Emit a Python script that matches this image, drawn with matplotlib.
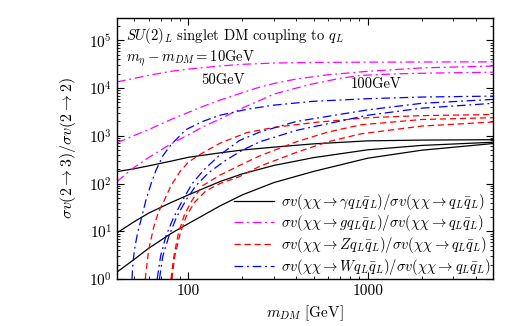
import numpy as np
import matplotlib.pyplot as plt
import matplotlib.ticker as ticker

plt.rcParams['font.family'] = 'serif'
plt.rcParams['font.serif'] = ['cmr10']
plt.rcParams['mathtext.fontset'] = 'cm'
plt.rcParams['axes.formatter.use_mathtext'] = True

#photon emission, mass splitting 10, 50, 100 GeV
m_gam = [40, 50, 60, 80, 100, 150, 200, 300, 500, 1000, 2000, 5000]
gam_10 = [178, 205, 235, 295, 355, 440, 505, 580, 680, 785, 815, 830]
gam_50 = [9.3, 16, 24, 40, 58, 110, 160, 240, 350, 510, 630, 735]
gam_100 = [1.4, 2.6, 4.4, 9, 14.5, 34, 58, 105, 180, 340, 500, 690]

#gluon emission
m_g10 = [40, 50, 60, 80, 100, 150, 200, 300, 500, 1000, 5000]
g_10 = [13500, 16000, 18500, 22500, 25000, 29000, 31500, 33500, 34500, 35000, 35500]
m_g50 = [40, 45, 50, 60, 70, 80, 100, 120, 150, 200, 250, 300, 400, 600, 1000, 2000, 5000]
g_50 = [720, 860, 1020, 1350, 1750, 2200, 3100, 4100, 5600, 8000, 10500, 12500, 15500,
        19000, 22500, 26500, 29000]
m_g100 = [40, 45, 50, 60, 70, 80, 100, 123, 150, 193, 250, 300, 480, 700, 915, 1500,
          2500, 5000]
g_100 = [110, 160, 220, 350, 500, 680, 1050, 1600, 2250, 3600, 5500, 7500, 12000, 16000,
         18500, 20000, 20800, 21500]

#Z emission
m_z10 = [57.5, 60, 64, 68, 73.5, 80, 90, 100, 115, 150, 212, 300, 500, 1000, 2000, 5000]
z_10 = [1, 4, 12, 25, 45, 90, 180, 280, 400, 700, 1170, 1500, 1900, 2400, 2650, 2800]
m_z50 = [80, 83, 88, 95, 105, 120, 150, 193, 250, 400, 600, 915, 2000, 5000]
z_50 = [1, 3, 9, 22, 45, 90, 150, 240, 380, 750, 1200, 1700, 2200, 2400]
m_z100 = [81, 84, 90, 97, 108, 125, 150, 193, 250, 400, 600, 915, 2000, 5000]
z_100 = [1, 3, 9, 20, 40, 70, 100, 140, 230, 450, 750, 1100, 1600, 1950]

#W emission
m_w10 = [48.5, 49, 50, 52, 55, 58, 62, 66, 72, 80, 97, 120, 150, 212, 300, 500, 1000,
         2000, 5000]
w_10 = [1, 2, 4, 9, 20, 45, 100, 190, 380, 650, 1350, 2000, 2700, 3600, 4400, 5300,
        6000, 6500, 6800]
m_w50 = [67, 70, 75, 83, 93, 105, 123, 150, 193, 250, 400, 1000, 2000, 5000]
w_50 = [1, 3, 8, 20, 45, 100, 200, 400, 800, 1200, 2000, 3500, 4800, 5800]
m_w100 = [69, 72, 78, 86, 97, 110, 130, 160, 200, 250, 400, 1000, 2000, 5000]
w_100 = [1, 3, 8, 20, 45, 90, 170, 300, 500, 750, 1300, 2700, 3800, 4800]

labels = [r'$\sigma v(\chi\chi\rightarrow\gamma q_L\bar{q}_L)/\sigma v(\chi\chi\rightarrow q_L\bar{q}_L)$',
          r'$\sigma v(\chi\chi\rightarrow g q_L\bar{q}_L)/\sigma v(\chi\chi\rightarrow q_L\bar{q}_L)$',
          r'$\sigma v(\chi\chi\rightarrow Z q_L\bar{q}_L)/\sigma v(\chi\chi\rightarrow q_L\bar{q}_L)$',
          r'$\sigma v(\chi\chi\rightarrow W q_L\bar{q}_L)/\sigma v(\chi\chi\rightarrow q_L\bar{q}_L)$']

dashdot = (0, (7, 3, 1.5, 3))
dashed = (0, (5, 3))

fig = plt.figure(figsize=(5.2, 3.26), dpi=100)
ax = fig.add_axes([0.225, 0.144, 0.723, 0.802])

ax.plot(m_gam, gam_10, color='black', lw=0.9, label=labels[0])
ax.plot(m_gam, gam_50, color='black', lw=0.9)
ax.plot(m_gam, gam_100, color='black', lw=0.9)

ax.plot(m_g10, g_10, color='#ff00ff', lw=0.9, ls=dashdot, label=labels[1])
ax.plot(m_g50, g_50, color='#ff00ff', lw=0.9, ls=dashdot)
ax.plot(m_g100, g_100, color='#ff00ff', lw=0.9, ls=dashdot)

ax.plot(m_z10, z_10, color='#ff0000', lw=0.9, ls=dashed, label=labels[2])
ax.plot(m_z50, z_50, color='#ff0000', lw=0.9, ls=dashed)
ax.plot(m_z100, z_100, color='#ff0000', lw=0.9, ls=dashed)

ax.plot(m_w10, w_10, color='#0000ff', lw=0.9, ls=dashdot, label=labels[3])
ax.plot(m_w50, w_50, color='#0000ff', lw=0.9, ls=dashdot)
ax.plot(m_w100, w_100, color='#0000ff', lw=0.9, ls=dashdot)

ax.set_xscale('log')
ax.set_yscale('log')
ax.set_xlim(40, 5000)
ax.set_ylim(1, 3e5)
ax.xaxis.set_major_locator(ticker.FixedLocator([100, 1000]))
ax.xaxis.set_major_formatter(ticker.FixedFormatter(['100', '1000']))
ax.xaxis.set_minor_formatter(ticker.NullFormatter())
ax.yaxis.set_major_locator(ticker.LogLocator(base=10, numticks=10))
ax.yaxis.set_minor_locator(ticker.LogLocator(base=10, subs=np.arange(2, 10), numticks=10))
ax.tick_params(which='both', direction='in', top=True, right=True, labelsize=11)
ax.tick_params(which='major', length=5)
ax.tick_params(which='minor', length=2.5)
for s in ax.spines.values():
    s.set_linewidth(1.0)

ax.set_xlabel(r'$m_{DM}$ [GeV]', fontsize=11)
ax.set_ylabel(r'$\sigma v(2\rightarrow 3)/\sigma v(2\rightarrow 2)$', fontsize=11.5, labelpad=8)

ax.text(0.025, 0.967, r'$SU(2)_L$ singlet DM coupling to $q_L$', transform=ax.transAxes,
        fontsize=10.5, va='top', ha='left')
ax.text(0.025, 0.885, r'$m_\eta - m_{DM} = 10$GeV', transform=ax.transAxes,
        fontsize=10.5, va='top', ha='left')
ax.text(118, 15000, '50GeV', fontsize=10.5, ha='left', va='center')
ax.text(1110, 12400, '100GeV', fontsize=10.5, ha='center', va='center')

ax.legend(loc='lower right', frameon=False, fontsize=10.5, handlelength=2.75,
          handletextpad=0.5, labelspacing=0.12, borderaxespad=0.0, borderpad=0.15)

fig.savefig('out.png', dpi=100)
